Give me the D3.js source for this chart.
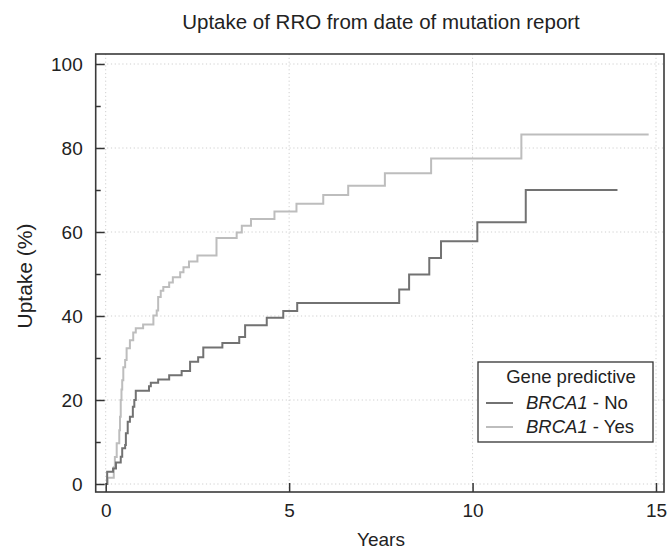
<!DOCTYPE html>
<html>
<head>
<meta charset="utf-8">
<script src="https://cdn.jsdelivr.net/npm/d3@7/dist/d3.min.js"></script>
<style>
  html, body { margin: 0; padding: 0; background: #fff; }
  svg { display: block; font-family: "Liberation Sans", Arial, sans-serif; }
</style>
</head>
<body>
<svg id="chart" width="670" height="553"></svg>
<script>
// ---- Data ----
const noTimes  = [0, 0.04, 0.2, 0.28, 0.41, 0.45, 0.53, 0.55, 0.6, 0.66, 0.74, 0.78, 0.82, 1.18, 1.23, 1.43, 1.73, 2.07, 2.3, 2.52, 2.66, 3.18, 3.64, 3.8, 4.39, 4.84, 5.22, 8.0, 8.27, 8.82, 9.14, 10.13, 11.45, 13.95];
const noValues = [0, 2.9, 3.7, 5.1, 6.5, 8.5, 9.3, 12.1, 14.8, 16, 18.4, 20, 22.2, 23.3, 24.1, 24.9, 25.9, 26.9, 29.1, 30.2, 32.5, 33.6, 35, 37.8, 39.6, 41.2, 43.1, 46.3, 49.9, 53.8, 57.8, 62.3, 70, 70];

const yesTimes  = [0, 0.05, 0.22, 0.25, 0.3, 0.37, 0.39, 0.41, 0.43, 0.45, 0.48, 0.53, 0.57, 0.66, 0.75, 0.82, 1.02, 1.3, 1.39, 1.43, 1.5, 1.57, 1.73, 1.83, 2.03, 2.12, 2.27, 2.5, 3.02, 3.57, 3.71, 3.96, 4.6, 5.2, 5.93, 6.61, 7.61, 8.87, 11.33, 14.8];
const yesValues = [0, 1.5, 4, 6.4, 9.7, 12.8, 16, 20, 22.5, 24.7, 27.8, 29.5, 32.3, 34.2, 36.1, 37.1, 38, 40.1, 41.3, 44.5, 46, 46.9, 48, 49.2, 50.4, 51.6, 53, 54.4, 58.6, 59.9, 61.5, 63.1, 64.9, 66.7, 68.8, 71, 74, 77.5, 83.2, 83.2];

const xTicks = [0, 5, 10, 15];
const yTicks = [0, 20, 40, 60, 80, 100];
const yMinorTicks = [10, 30, 50, 70, 90];

const seriesNames = ["No", "Yes"];
const titleText = "Uptake of RRO from date of mutation report";
const xLabel = "Years";
const yLabel = "Uptake (%)";
const legendTitle = "Gene predictive";

// ---- Layout ----
const svg = d3.select("#chart");
const frame = { left: 95.7, right: 664, top: 54, bottom: 492 };
const x = d3.scaleLinear().domain([0, 15]).range([105.7, 656]);
const y = d3.scaleLinear().domain([0, 100]).range([484, 64]);

const colors = { No: "#727272", Yes: "#bdbdbd" };

// grid
const grid = svg.append("g").attr("stroke", "#cfcfcf").attr("stroke-width", 1).attr("stroke-dasharray", "1.2,2.6");
grid.selectAll(".gx").data(xTicks).join("line")
  .attr("x1", d => x(d)).attr("x2", d => x(d))
  .attr("y1", frame.top).attr("y2", frame.bottom);
grid.selectAll(".gy").data(yTicks).join("line")
  .attr("x1", frame.left).attr("x2", frame.right)
  .attr("y1", d => y(d)).attr("y2", d => y(d));

// curves
const line = d3.line().curve(d3.curveStepAfter).x(d => x(d[0])).y(d => y(d[1]));
const noData = noTimes.map((t, i) => [t, noValues[i]]);
const yesData = yesTimes.map((t, i) => [t, yesValues[i]]);
svg.append("path").datum(yesData).attr("d", line)
  .attr("fill", "none").attr("stroke", colors.Yes).attr("stroke-width", 2);
svg.append("path").datum(noData).attr("d", line)
  .attr("fill", "none").attr("stroke", colors.No).attr("stroke-width", 2);

// axes (ticks pointing inward)
const xAxis = d3.axisBottom(x).tickValues(xTicks).tickSizeInner(-9).tickSizeOuter(0).tickPadding(12);
const gx = svg.append("g").attr("transform", `translate(0,${frame.bottom})`).call(xAxis);
gx.select(".domain").remove();
gx.selectAll(".tick line").attr("stroke", "#333").attr("stroke-width", 1.5);
gx.selectAll(".tick text").attr("font-size", 19).attr("fill", "#222")
  .attr("font-family", "Liberation Sans, Arial, sans-serif");

const yAxis = d3.axisLeft(y).tickValues(yTicks).tickSizeInner(-9).tickSizeOuter(0).tickPadding(13);
const gy = svg.append("g").attr("transform", `translate(${frame.left},0)`).call(yAxis);
gy.select(".domain").remove();
gy.selectAll(".tick line").attr("stroke", "#333").attr("stroke-width", 1.5);
gy.selectAll(".tick text").attr("font-size", 19).attr("fill", "#222")
  .attr("font-family", "Liberation Sans, Arial, sans-serif");

const yAxisMinor = d3.axisLeft(y).tickValues(yMinorTicks).tickSizeInner(-5).tickSizeOuter(0).tickFormat("");
const gym = svg.append("g").attr("transform", `translate(${frame.left},0)`).call(yAxisMinor);
gym.select(".domain").remove();
gym.selectAll(".tick line").attr("stroke", "#333").attr("stroke-width", 1.5);

// frame
svg.append("rect")
  .attr("x", frame.left).attr("y", frame.top)
  .attr("width", frame.right - frame.left).attr("height", frame.bottom - frame.top)
  .attr("fill", "none").attr("stroke", "#3a3a3a").attr("stroke-width", 1.6);

// title and axis labels
svg.append("text").attr("x", 381).attr("y", 29).attr("text-anchor", "middle")
  .attr("font-size", 20.5).attr("fill", "#222").text(titleText);
svg.append("text").attr("x", 381).attr("y", 546).attr("text-anchor", "middle")
  .attr("font-size", 19).attr("fill", "#222").text(xLabel);
svg.append("text").attr("transform", "translate(32,276) rotate(-90)").attr("text-anchor", "middle")
  .attr("font-size", 21).attr("fill", "#222").text(yLabel);

// legend
const lg = svg.append("g");
lg.append("rect").attr("x", 478).attr("y", 362).attr("width", 175).attr("height", 80)
  .attr("fill", "#fff").attr("stroke", "#333").attr("stroke-width", 1.3);
lg.append("text").attr("x", 571).attr("y", 383).attr("text-anchor", "middle")
  .attr("font-size", 18.5).attr("fill", "#222").text(legendTitle);
seriesNames.forEach((name, i) => {
  const yy = 403 + i * 24;
  lg.append("line").attr("x1", 486).attr("x2", 513).attr("y1", yy).attr("y2", yy)
    .attr("stroke", colors[name]).attr("stroke-width", 2);
  const t = lg.append("text").attr("x", 526).attr("y", yy + 6).attr("font-size", 18.5).attr("fill", "#222");
  t.append("tspan").attr("font-style", "italic").text("BRCA1");
  t.append("tspan").text(" - " + name);
});
</script>
</body>
</html>
